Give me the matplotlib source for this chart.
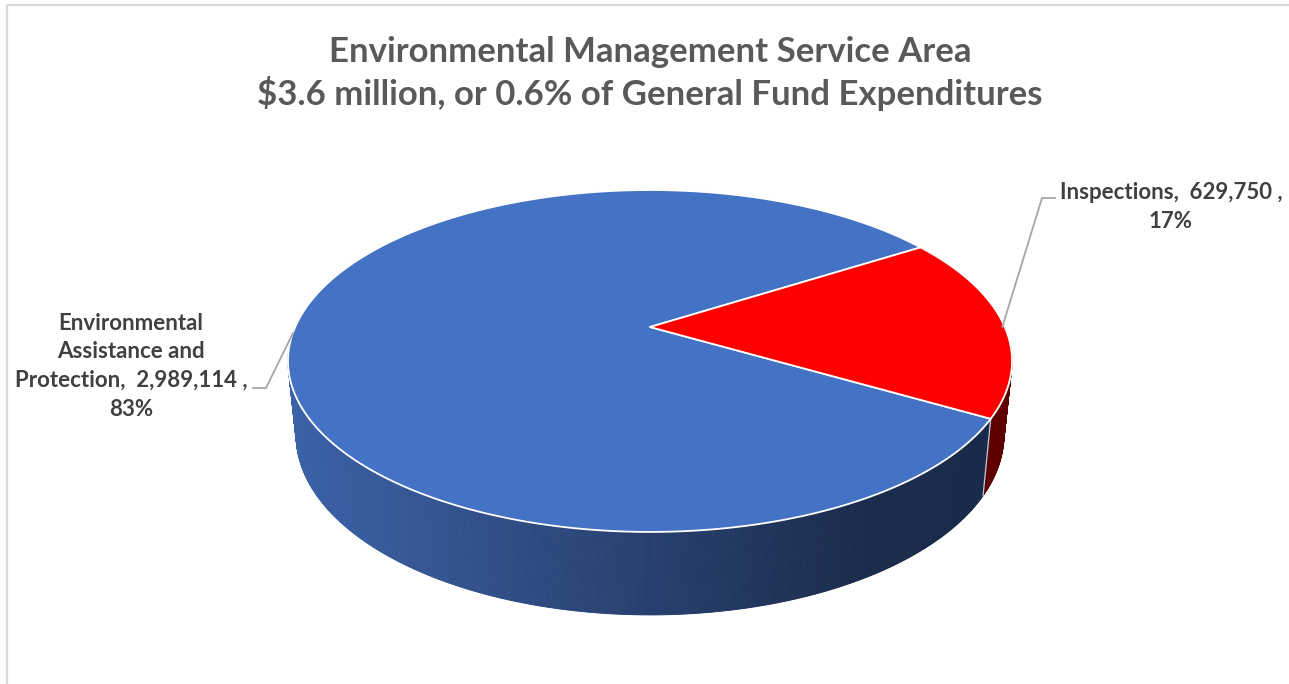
import numpy as np
import matplotlib
matplotlib.use('Agg')
import matplotlib.pyplot as plt
from matplotlib.patches import Polygon

# ---- data ----
categories = ['Environmental Assistance and Protection', 'Inspections']
values = [2989114, 629750]
label_texts = [
    ['Environmental', 'Assistance and', 'Protection,  2,989,114 ,', '83%'],
    ['Inspections,  629,750 ,', '17%'],
]
title_lines = ['Environmental Management Service Area',
               '$3.6 million, or 0.6% of General Fund Expenditures']
colors_top = ['#4472C4', '#FF0000']
color_red_wall = '#5e0000'

W, H = 1289, 684
fig = plt.figure(figsize=(W / 100, H / 100), dpi=100)
ax = fig.add_axes([0, 0, 1, 1])
ax.set_xlim(0, W)
ax.set_ylim(H, 0)
ax.axis('off')

FONT = ['Lato', 'DejaVu Sans']

# ---- 3D pie projection ----
cx, cy = 650, 327
a, b, k = 354.8, 164.2, 0.1988
sx, D, e = 0.9775, 72.2, 0.0526


def top(t):
    u, v = np.cos(t), np.sin(t)
    den = 1 + k * v
    return cx + a * u / den, cy - b * v / den


def bot(t):
    x, y = top(t)
    return cx + sx * (x - cx), y + D + e * (y - cy)


total = sum(values)
fracs = [v / total for v in values]
start_red = np.deg2rad(-30.2)
span_red = 2 * np.pi * fracs[1]
ranges = {
    1: (start_red, start_red + span_red),
    0: (start_red + span_red, start_red + 2 * np.pi),
}
seam = start_red + 2 * np.pi  # blue/red boundary on the front wall

c_left = np.array([0x3b, 0x62, 0xa8]) / 255
c_right = np.array([0x1a, 0x2a, 0x4a]) / 255


def blue_wall_color(x):
    tt = np.clip((x - 290) / (870 - 290), 0, 1)
    return c_left * (1 - tt) + c_right * tt


# wall strips (drawn back to front)
ts = np.linspace(np.pi - 0.05, 2 * np.pi + 0.05, 700)
quads = []
for t0, t1 in zip(ts[:-1], ts[1:]):
    tm = (t0 + t1) / 2
    x0, y0 = top(t0)
    x1, y1 = top(t1)
    bx0, by0 = bot(t0)
    bx1, by1 = bot(t1)
    if tm < seam:
        col = blue_wall_color((x0 + x1) / 2)
    else:
        col = color_red_wall
    quads.append((np.sin(tm), [[x0, y0], [x1, y1], [bx1, by1], [bx0, by0]], col))
quads.sort(key=lambda q: -q[0])
for _, pts, col in quads:
    ax.add_patch(Polygon(pts, closed=True, facecolor=col, edgecolor=col,
                         lw=0.6, zorder=1))

# seam line between walls
sx0, sy0 = top(seam)
sx1, sy1 = bot(seam)
ax.plot([sx0, sx1], [sy0, sy1], color='#c8c8d8', lw=0.9, zorder=2)

# top faces
for i in (0, 1):
    t0, t1 = ranges[i]
    tt = np.linspace(t0, t1, 400)
    xs, ys = top(tt)
    pts = np.column_stack([np.concatenate([[cx], xs]), np.concatenate([[cy], ys])])
    ax.add_patch(Polygon(pts, closed=True, facecolor=colors_top[i],
                         edgecolor='white', lw=1.3, joinstyle='round', zorder=3))

# ---- leader lines & labels ----
lead = '#a6a6a6'
mid0 = (ranges[0][0] + ranges[0][1]) / 2
mx, my = top(mid0)
ax.plot([mx - 1, 266, 253], [my + 3, 388, 388], color=lead, lw=1.3, zorder=4)
mid1 = (ranges[1][0] + ranges[1][1]) / 2
mx, my = top(mid1)
ax.plot([mx - 1, 1042, 1055], [my + 3, 198, 198], color=lead, lw=1.3, zorder=4)

fig.canvas.draw()
renderer = fig.canvas.get_renderer()


def fit_text(x, y, s, target_w, size0, color, weight='bold'):
    t = ax.text(x, y, s, ha='center', va='baseline', fontsize=size0,
                color=color, fontweight=weight, family=FONT, zorder=5)
    w = t.get_window_extent(renderer).width
    t.set_fontsize(size0 * target_w / w)
    return t


lab_color = '#404040'
lt = label_texts[0]
base_y = [330, 358.5, 387, 415.5]
ref = fit_text(131, base_y[2], lt[2], 233, 14, lab_color)
fs = ref.get_fontsize()
for j in (0, 1, 3):
    ax.text(131, base_y[j], lt[j], ha='center', va='baseline', fontsize=fs,
            color=lab_color, fontweight='bold', family=FONT, zorder=5)
rt = label_texts[1]
ax.text(1171, 199, rt[0], ha='center', va='baseline', fontsize=fs,
        color=lab_color, fontweight='bold', family=FONT, zorder=5)
ax.text(1171, 228, rt[1], ha='center', va='baseline', fontsize=fs,
        color=lab_color, fontweight='bold', family=FONT, zorder=5)

# ---- title ----
tcol = '#595959'
t2 = fit_text(650, 105, title_lines[1], 785, 22, tcol)
ax.text(650, 62, title_lines[0], ha='center', va='baseline',
        fontsize=t2.get_fontsize(), color=tcol, fontweight='bold', family=FONT,
        zorder=5)

# ---- border ----
ax.plot([7, W], [5, 5], color='#d9d9d9', lw=1.6, zorder=6, solid_capstyle='butt')
ax.plot([7, 7], [5, H], color='#d9d9d9', lw=1.6, zorder=6, solid_capstyle='butt')

fig.savefig('out.png', dpi=100, facecolor='white')
